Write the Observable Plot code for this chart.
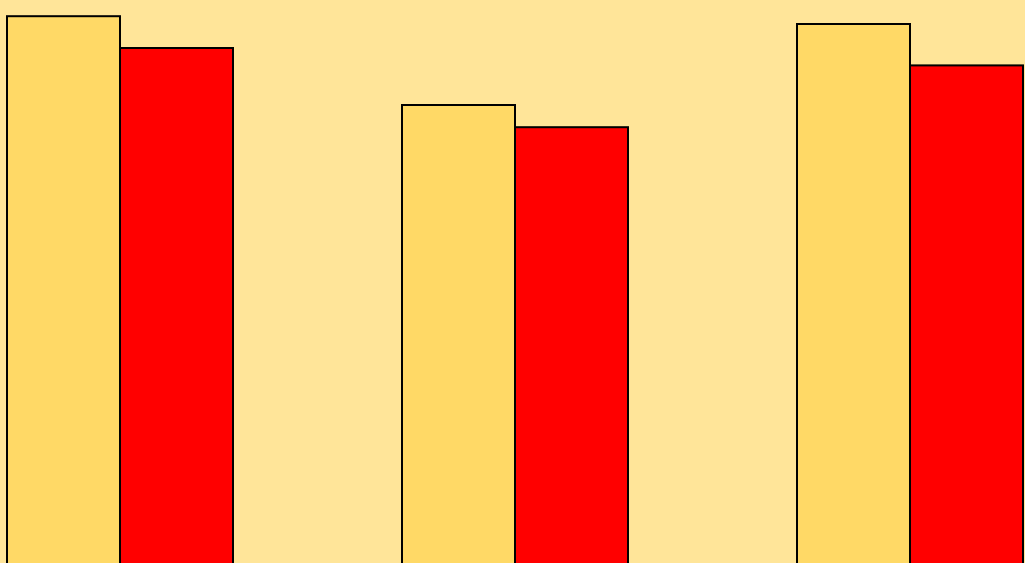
<!DOCTYPE html>
<html>
<head>
<meta charset="utf-8">
<script src="https://cdn.jsdelivr.net/npm/d3@7"></script>
<script src="https://cdn.jsdelivr.net/npm/@observablehq/plot@0.6"></script>
<style>
  html, body { margin: 0; padding: 0; background: #FFE599; overflow: hidden; }
  #chart svg { display: block; }
</style>
</head>
<body>
<div id="chart"></div>
<script>
const groups = ["Group 1", "Group 2", "Group 3"];
const series = ["Series A", "Series B"];
const valuesA = [97.3, 82.5, 96.0];
const valuesB = [92.0, 78.8, 89.1];
const seriesColors = ["#FFD966", "#FF0000"];

const data = [];
groups.forEach((g, i) => {
  data.push({group: g, series: series[0], value: valuesA[i]});
  data.push({group: g, series: series[1], value: valuesB[i]});
});

const chart = Plot.plot({
  width: 1025,
  height: 563,
  marginTop: 0,
  marginBottom: 0,
  marginLeft: 5,
  marginRight: 0,
  style: {background: "#FFE599"},
  fx: {domain: groups, axis: null, paddingInner: 0.4242, paddingOuter: 0, label: null},
  x: {domain: series, axis: null, padding: 0},
  y: {domain: [0, 100], range: [600, 0], axis: null},
  color: {domain: series, range: seriesColors},
  marks: [
    Plot.barY(data, {
      fx: "group",
      x: "series",
      y: "value",
      fill: "series",
      stroke: "black",
      strokeWidth: 2,
      inset: 0
    })
  ]
});
document.getElementById("chart").appendChild(chart);
</script>
</body>
</html>
